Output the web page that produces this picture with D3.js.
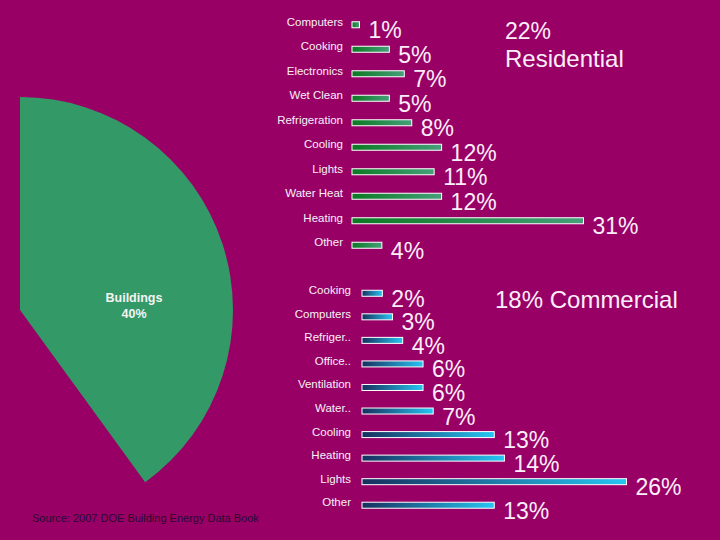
<!DOCTYPE html>
<html>
<head>
<meta charset="utf-8">
<script src="https://cdn.jsdelivr.net/npm/d3@7"></script>
<style>
html,body{margin:0;padding:0;background:#990066;}
svg{display:block;font-family:Arial,"Liberation Sans",sans-serif;}
</style>
</head>
<body>
<svg id="chart" width="720" height="540"></svg>
<script>
// ---- data ----
const pieLabels = ["Buildings", "Other sectors"];
const pieValues = [40, 60];

const resCategories = ["Computers","Cooking","Electronics","Wet Clean","Refrigeration","Cooling","Lights","Water Heat","Heating","Other"];
const resValues = [1, 5, 7, 5, 8, 12, 11, 12, 31, 4];

const comCategories = ["Cooking","Computers","Refriger..","Office..","Ventilation","Water..","Cooling","Heating","Lights","Other"];
const comValues = [2, 3, 4, 6, 6, 7, 13, 14, 26, 13];

const resTitle = ["22%", "Residential"];
const comTitle = "18% Commercial";
const sourceText = "Source: 2007 DOE Building Energy Data Book";

// ---- drawing ----
const svg = d3.select("#chart");
svg.append("rect").attr("width",720).attr("height",540).attr("fill","#990066");

const defs = svg.append("defs");
const g1 = defs.append("linearGradient").attr("id","gradGreen").attr("x1","0%").attr("x2","100%");
g1.append("stop").attr("offset","0%").attr("stop-color","#0b7a22");
g1.append("stop").attr("offset","100%").attr("stop-color","#45a07a");
const g2 = defs.append("linearGradient").attr("id","gradBlue").attr("x1","0%").attr("x2","100%");
g2.append("stop").attr("offset","0%").attr("stop-color","#17305e");
g2.append("stop").attr("offset","100%").attr("stop-color","#25c6f2");

// pie
const pieG = svg.append("g").attr("transform","translate(20,310)");
const pie = d3.pie().sort(null).startAngle(0).endAngle(2*Math.PI);
const arc = d3.arc().innerRadius(0).outerRadius(213);
const arcs = pie(pieValues);
pieG.selectAll("path").data(arcs).join("path")
  .attr("d", arc)
  .attr("fill", (d,i) => i === 0 ? "#339966" : "none");
const lbl = pieG.append("text")
  .attr("text-anchor","middle")
  .attr("fill","#f4f4f4")
  .attr("font-weight","bold")
  .attr("font-size",12.5);
lbl.append("tspan").attr("x",114).attr("y",-8).text(pieLabels[0]);
lbl.append("tspan").attr("x",114).attr("y",8).text(pieValues[0] + "%");

svg.append("text").attr("x",32).attr("y",522)
  .attr("font-size",11).attr("fill","#2a0a30")
  .text(sourceText);

function barChart(cats, vals, opts) {
  const y = d3.scaleBand().domain(cats).range(opts.yRange);
  const x = d3.scaleLinear().domain([0, opts.maxVal]).range([opts.x0, opts.x0 + opts.maxW]);
  const g = svg.append("g");
  const rows = g.selectAll("g.row").data(cats.map((c,i)=>({c, v: vals[i]}))).join("g")
    .attr("transform", d => `translate(0,${y(d.c) + y.bandwidth()/2})`);
  rows.append("text")
    .attr("x", opts.labelX).attr("y", 1)
    .attr("text-anchor","end")
    .attr("font-size",11.5)
    .attr("fill","#f6f0f6")
    .text(d => d.c);
  rows.append("rect")
    .attr("x", x(0)).attr("y", -3)
    .attr("width", d => x(d.v) - x(0))
    .attr("height", 6)
    .attr("fill", opts.fill)
    .attr("stroke", "#ffffff")
    .attr("stroke-width", 1);
  rows.append("text")
    .attr("x", d => x(d.v) + 9)
    .attr("y", 13.5)
    .attr("font-size", 23)
    .attr("fill","#fbeefb")
    .text(d => d.v + "%");
}

barChart(resCategories, resValues, {
  yRange:[12.5, 257.5], x0:352, maxW:231.5, maxVal:31, labelX:343, fill:"url(#gradGreen)"
});
barChart(comCategories, comValues, {
  yRange:[281.5, 517], x0:362, maxW:264.5, maxVal:26, labelX:351, fill:"url(#gradBlue)"
});

const rt = svg.append("text").attr("font-size",23).attr("fill","#fbeefb");
rt.append("tspan").attr("x",505).attr("y",39).text(resTitle[0]);
rt.append("tspan").attr("x",505).attr("y",67).attr("font-size",24).text(resTitle[1]);

svg.append("text").attr("x",495).attr("y",308).attr("font-size",24).attr("fill","#fbeefb").text(comTitle);
</script>
</body>
</html>
